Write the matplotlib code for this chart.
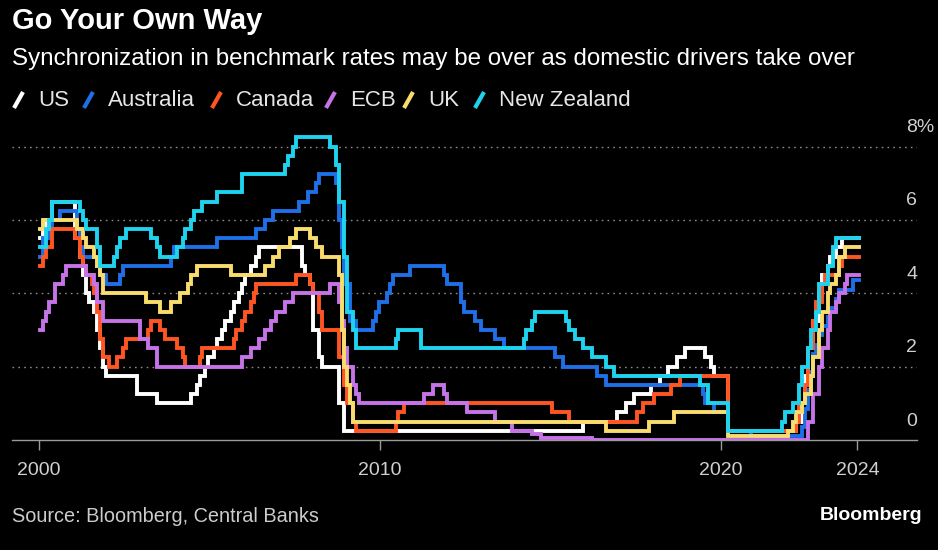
import matplotlib
matplotlib.use('Agg')
import matplotlib.pyplot as plt
from matplotlib.lines import Line2D
from matplotlib import transforms

plt.rcParams['font.family'] = ['Liberation Sans', 'DejaVu Sans']

# policy rates, (month of change, new rate in %)
us = [('2000-01', 5.5), ('2000-02', 5.75), ('2000-03', 6.0), ('2000-05', 6.5), ('2001-01', 5.5),
      ('2001-03', 5.0), ('2001-04', 4.5), ('2001-05', 4.0), ('2001-06', 3.75), ('2001-08', 3.5),
      ('2001-09', 3.0), ('2001-10', 2.5), ('2001-11', 2.0), ('2001-12', 1.75), ('2002-11', 1.25),
      ('2003-06', 1.0), ('2004-06', 1.25), ('2004-08', 1.5), ('2004-09', 1.75), ('2004-11', 2.0),
      ('2004-12', 2.25), ('2005-02', 2.5), ('2005-03', 2.75), ('2005-05', 3.0), ('2005-06', 3.25),
      ('2005-08', 3.5), ('2005-09', 3.75), ('2005-11', 4.0), ('2005-12', 4.25), ('2006-01', 4.5),
      ('2006-03', 4.75), ('2006-05', 5.0), ('2006-06', 5.25), ('2007-09', 4.75), ('2007-10', 4.5),
      ('2007-12', 4.25), ('2008-01', 3.0), ('2008-03', 2.25), ('2008-04', 2.0), ('2008-10', 1.0),
      ('2008-12', 0.25), ('2015-12', 0.5), ('2016-12', 0.75), ('2017-03', 1.0), ('2017-06', 1.25),
      ('2017-12', 1.5), ('2018-03', 1.75), ('2018-06', 2.0), ('2018-09', 2.25), ('2018-12', 2.5),
      ('2019-07', 2.25), ('2019-09', 2.0), ('2019-10', 1.75), ('2020-03', 0.25), ('2022-03', 0.5),
      ('2022-05', 1.0), ('2022-06', 1.75), ('2022-07', 2.5), ('2022-09', 3.25), ('2022-11', 4.0),
      ('2022-12', 4.5), ('2023-02', 4.75), ('2023-03', 5.0), ('2023-05', 5.25), ('2023-07', 5.5),
      ('2024-01', 5.5)]

australia = [('2000-01', 5.0), ('2000-02', 5.5), ('2000-04', 5.75), ('2000-05', 6.0), ('2000-08', 6.25),
             ('2001-02', 5.75), ('2001-03', 5.25), ('2001-04', 5.0), ('2001-09', 4.75), ('2001-10', 4.5),
             ('2001-12', 4.25), ('2002-05', 4.5), ('2002-06', 4.75), ('2003-11', 5.0), ('2003-12', 5.25),
             ('2005-03', 5.5), ('2006-05', 5.75), ('2006-08', 6.0), ('2006-11', 6.25), ('2007-08', 6.5),
             ('2007-11', 6.75), ('2008-02', 7.0), ('2008-03', 7.25), ('2008-09', 7.0), ('2008-10', 6.0),
             ('2008-11', 5.25), ('2008-12', 4.25), ('2009-02', 3.25), ('2009-04', 3.0), ('2009-10', 3.25),
             ('2009-11', 3.5), ('2009-12', 3.75), ('2010-03', 4.0), ('2010-04', 4.25), ('2010-05', 4.5),
             ('2010-11', 4.75), ('2011-11', 4.5), ('2011-12', 4.25), ('2012-05', 3.75), ('2012-06', 3.5),
             ('2012-10', 3.25), ('2012-12', 3.0), ('2013-05', 2.75), ('2013-08', 2.5), ('2015-02', 2.25),
             ('2015-05', 2.0), ('2016-05', 1.75), ('2016-08', 1.5), ('2019-06', 1.25), ('2019-07', 1.0),
             ('2019-10', 0.75), ('2020-03', 0.25), ('2020-11', 0.1), ('2022-05', 0.35), ('2022-06', 0.85),
             ('2022-07', 1.35), ('2022-08', 1.85), ('2022-09', 2.35), ('2022-10', 2.6), ('2022-11', 2.85),
             ('2022-12', 3.1), ('2023-02', 3.35), ('2023-03', 3.6), ('2023-05', 3.85), ('2023-06', 4.1),
             ('2023-11', 4.35), ('2024-01', 4.35)]

canada = [('2000-01', 4.75), ('2000-02', 5.0), ('2000-03', 5.25), ('2000-05', 5.75), ('2001-01', 5.5),
          ('2001-03', 5.0), ('2001-04', 4.75), ('2001-05', 4.5), ('2001-07', 4.25), ('2001-08', 4.0),
          ('2001-09', 3.5), ('2001-10', 2.75), ('2001-11', 2.25), ('2002-01', 2.0), ('2002-04', 2.25),
          ('2002-06', 2.5), ('2002-07', 2.75), ('2003-03', 3.0), ('2003-04', 3.25), ('2003-07', 3.0),
          ('2003-09', 2.75), ('2004-01', 2.5), ('2004-03', 2.25), ('2004-04', 2.0), ('2004-09', 2.25),
          ('2004-10', 2.5), ('2005-09', 2.75), ('2005-10', 3.0), ('2005-12', 3.25), ('2006-01', 3.5),
          ('2006-03', 3.75), ('2006-04', 4.0), ('2006-05', 4.25), ('2007-07', 4.5), ('2007-12', 4.25),
          ('2008-01', 4.0), ('2008-03', 3.5), ('2008-04', 3.0), ('2008-10', 2.25), ('2008-12', 1.5),
          ('2009-01', 1.0), ('2009-03', 0.5), ('2009-04', 0.25), ('2010-06', 0.5), ('2010-07', 0.75),
          ('2010-09', 1.0), ('2015-01', 0.75), ('2015-07', 0.5), ('2017-07', 0.75), ('2017-09', 1.0),
          ('2018-01', 1.25), ('2018-07', 1.5), ('2018-10', 1.75), ('2020-03', 0.25), ('2022-03', 0.5),
          ('2022-04', 1.0), ('2022-06', 1.5), ('2022-07', 2.5), ('2022-09', 3.25), ('2022-10', 3.75),
          ('2022-12', 4.25), ('2023-01', 4.5), ('2023-06', 4.75), ('2023-07', 5.0), ('2024-01', 5.0)]

ecb = [('2000-01', 3.0), ('2000-02', 3.25), ('2000-03', 3.5), ('2000-04', 3.75), ('2000-06', 4.25),
       ('2000-09', 4.5), ('2000-10', 4.75), ('2001-05', 4.5), ('2001-08', 4.25), ('2001-09', 3.75),
       ('2001-11', 3.25), ('2002-12', 2.75), ('2003-03', 2.5), ('2003-06', 2.0), ('2005-12', 2.25),
       ('2006-03', 2.5), ('2006-06', 2.75), ('2006-08', 3.0), ('2006-10', 3.25), ('2006-12', 3.5),
       ('2007-03', 3.75), ('2007-06', 4.0), ('2008-07', 4.25), ('2008-10', 3.75), ('2008-11', 3.25),
       ('2008-12', 2.5), ('2009-01', 2.0), ('2009-03', 1.5), ('2009-04', 1.25), ('2009-05', 1.0),
       ('2011-04', 1.25), ('2011-07', 1.5), ('2011-11', 1.25), ('2011-12', 1.0), ('2012-07', 0.75),
       ('2013-05', 0.5), ('2013-11', 0.25), ('2014-06', 0.15), ('2014-09', 0.05), ('2016-03', 0.0),
       ('2022-07', 0.5), ('2022-09', 1.25), ('2022-11', 2.0), ('2022-12', 2.5), ('2023-02', 3.0),
       ('2023-03', 3.5), ('2023-05', 3.75), ('2023-06', 4.0), ('2023-08', 4.25), ('2023-09', 4.5),
       ('2024-01', 4.5)]

uk = [('2000-01', 5.75), ('2000-02', 6.0), ('2001-02', 5.75), ('2001-04', 5.5), ('2001-05', 5.25),
      ('2001-08', 5.0), ('2001-09', 4.75), ('2001-10', 4.5), ('2001-11', 4.0), ('2003-02', 3.75),
      ('2003-07', 3.5), ('2003-11', 3.75), ('2004-02', 4.0), ('2004-05', 4.25), ('2004-06', 4.5),
      ('2004-08', 4.75), ('2005-08', 4.5), ('2006-08', 4.75), ('2006-11', 5.0), ('2007-01', 5.25),
      ('2007-05', 5.5), ('2007-07', 5.75), ('2007-12', 5.5), ('2008-02', 5.25), ('2008-04', 5.0),
      ('2008-10', 4.5), ('2008-11', 3.0), ('2008-12', 2.0), ('2009-01', 1.5), ('2009-02', 1.0),
      ('2009-03', 0.5), ('2016-08', 0.25), ('2017-11', 0.5), ('2018-08', 0.75), ('2020-03', 0.1),
      ('2021-12', 0.25), ('2022-02', 0.5), ('2022-03', 0.75), ('2022-05', 1.0), ('2022-06', 1.25),
      ('2022-08', 1.75), ('2022-09', 2.25), ('2022-11', 3.0), ('2022-12', 3.5), ('2023-02', 4.0),
      ('2023-03', 4.25), ('2023-05', 4.5), ('2023-06', 5.0), ('2023-08', 5.25), ('2024-01', 5.25)]

new_zealand = [('2000-01', 5.25), ('2000-03', 5.75), ('2000-04', 6.0), ('2000-05', 6.5), ('2001-03', 6.25),
               ('2001-04', 6.0), ('2001-05', 5.75), ('2001-09', 5.25), ('2001-10', 4.75), ('2002-03', 5.0),
               ('2002-04', 5.25), ('2002-05', 5.5), ('2002-07', 5.75), ('2003-04', 5.5), ('2003-06', 5.25),
               ('2003-07', 5.0), ('2004-01', 5.25), ('2004-03', 5.5), ('2004-04', 5.75), ('2004-06', 6.0),
               ('2004-07', 6.25), ('2004-10', 6.5), ('2005-03', 6.75), ('2005-12', 7.25), ('2007-03', 7.5),
               ('2007-04', 7.75), ('2007-06', 8.0), ('2007-07', 8.25), ('2008-07', 8.0), ('2008-09', 7.5),
               ('2008-10', 6.5), ('2008-12', 5.0), ('2009-01', 3.5), ('2009-03', 3.0), ('2009-04', 2.5),
               ('2010-06', 2.75), ('2010-07', 3.0), ('2011-03', 2.5), ('2014-03', 2.75), ('2014-04', 3.0),
               ('2014-06', 3.25), ('2014-07', 3.5), ('2015-06', 3.25), ('2015-07', 3.0), ('2015-09', 2.75),
               ('2015-12', 2.5), ('2016-03', 2.25), ('2016-08', 2.0), ('2016-11', 1.75), ('2019-05', 1.5),
               ('2019-08', 1.0), ('2020-03', 0.25), ('2021-10', 0.5), ('2021-11', 0.75), ('2022-02', 1.0),
               ('2022-04', 1.5), ('2022-05', 2.0), ('2022-07', 2.5), ('2022-08', 3.0), ('2022-10', 3.5),
               ('2022-11', 4.25), ('2023-02', 4.75), ('2023-04', 5.25), ('2023-05', 5.5), ('2024-01', 5.5)]

names = ['US', 'Australia', 'Canada', 'ECB', 'UK', 'New Zealand']
series = [us, australia, canada, ecb, uk, new_zealand]
colors = ['#ffffff', '#1f6fe6', '#ff5522', '#c673e8', '#f9dc6e', '#1fd3ee']

year_ticks = [2000, 2010, 2020, 2024]
rate_ticks = [0, 2, 4, 6, 8]

W, H = 938, 550


def to_year(s):
    y, m = s.split('-')
    return int(y) + (int(m) - 0.5) / 12


def fx(px):
    return px / W


def fy(py):
    return 1 - py / H


fig = plt.figure(figsize=(W / 100, H / 100), dpi=100, facecolor='black')
ax = fig.add_axes([fx(12), fy(440), fx(905), 311.7 / H])
ax.set_facecolor('black')
ax.set_xlim(1999.208, 2025.748)
ax.set_ylim(0, 8.5)

for r in rate_ticks[1:]:
    ax.axhline(r, color='#8a8a8a', lw=1, dashes=(1.2, 3), zorder=1)

for name, data, c in zip(names, series, colors):
    xs = [to_year(d) for d, v in data]
    ys = [v for d, v in data]
    ax.plot(xs, ys, drawstyle='steps-post', color=c, lw=2.8, zorder=3,
            solid_joinstyle='miter')

for s in ['top', 'left', 'right']:
    ax.spines[s].set_visible(False)
ax.spines['bottom'].set_color('#9a9a9a')
ax.spines['bottom'].set_linewidth(1)
ax.set_xticks(year_ticks)
ax.set_xticklabels([str(y) for y in year_ticks])
ax.tick_params(axis='x', colors='#9a9a9a', length=7, width=1, pad=9,
               labelsize=14, labelcolor='#d0d0d0')
ax.set_yticks([])

trans = transforms.blended_transform_factory(ax.transAxes, ax.transData)
trans = transforms.offset_copy(trans, fig=fig, x=0, y=19, units='dots')
for r in rate_ticks:
    lab = f'{r}%' if r == rate_ticks[-1] else str(r)
    ax.text(0.988, r, lab, transform=trans, ha='left', va='center',
            color='#d0d0d0', fontsize=14)

# titles
fig.text(fx(12), fy(21), 'Go Your Own Way', color='white', fontsize=21,
         fontweight='bold', ha='left', va='center')
fig.text(fx(12), fy(59), 'Synchronization in benchmark rates may be over as domestic drivers take over',
         color='white', fontsize=17.4, ha='left', va='center')

# legend
leg_x = [12, 82, 210, 324, 402, 473]
for x0, name, c in zip(leg_x, names, colors):
    fig.add_artist(Line2D([fx(x0 + 2), fx(x0 + 11)], [fy(108), fy(92)], color=c, lw=3,
                          transform=fig.transFigure, solid_capstyle='butt'))
    fig.text(fx(x0 + 26), fy(100), name, color='#e6e6e6', fontsize=16, ha='left', va='center')

fig.text(fx(12), fy(517), 'Source: Bloomberg, Central Banks', color='#cccccc', fontsize=14.3,
         ha='left', va='center')
fig.text(fx(922), fy(516), 'Bloomberg', color='white', fontsize=14, fontweight='bold',
         ha='right', va='center')

fig.savefig('out.png', dpi=100, facecolor='black')
